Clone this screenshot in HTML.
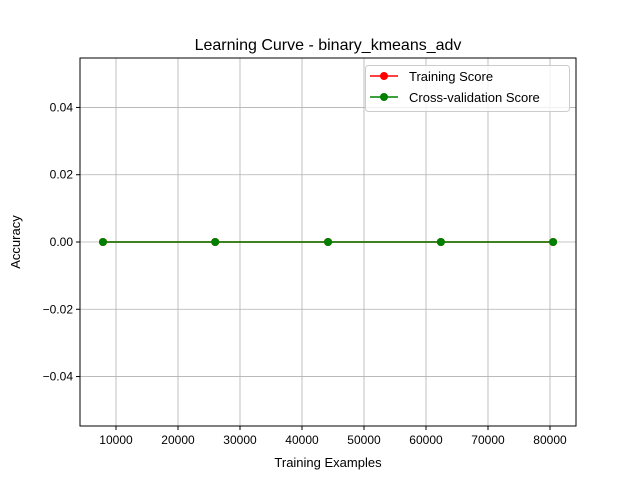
<!DOCTYPE html>
<html><head><meta charset="utf-8"><style>
body{margin:0;background:#fff;}
svg{font-family:"Liberation Sans","DejaVu Sans",sans-serif;}
</style></head><body>
<svg id="c" width="640" height="480" xmlns="http://www.w3.org/2000/svg">
<rect width="640" height="480" fill="#fff"/>
<text x="328" y="50" font-size="16" text-anchor="middle">Learning Curve - binary_kmeans_adv</text>
<g id="grid"></g>
<g id="ticks"></g>
<g id="series"></g>
<rect x="80" y="58" width="496" height="368" fill="none" stroke="#000" stroke-width="1"/>
<text x="328" y="467" font-size="13" text-anchor="middle">Training Examples</text>
<text transform="translate(20,242) rotate(-90)" font-size="13" text-anchor="middle">Accuracy</text>
<g>
<rect x="365.5" y="65.5" width="204" height="46" rx="3" fill="#fff" fill-opacity="0.8" stroke="#ccc"/>
<g>
<line x1="370" y1="76" x2="398" y2="76" stroke="red" stroke-width="1.5"/><circle cx="384" cy="76" r="4" fill="red"/>
<text x="409" y="81" font-size="13">Training Score</text></g>
<g>
<line x1="370" y1="97" x2="398" y2="97" stroke="green" stroke-width="1.5"/><circle cx="384" cy="97" r="4" fill="green"/>
<text x="409" y="102" font-size="13">Cross-validation Score</text></g>
</g>
</svg>
<script>
const trainSizes=[7900,26000,44200,62400,80500];
const trainScores=[0,0,0,0,0];
const cvScores=[0,0,0,0,0];
const xTicks=[10000,20000,30000,40000,50000,60000,70000,80000];
const yTicks=[-0.04,-0.02,0,0.02,0.04];
const NS="http://www.w3.org/2000/svg";
const X0=80,X1=576,Y0=58,Y1=426,xmin=4194,xmax=84194,ymin=-0.0547,ymax=0.0547;
const sx=v=>X0+(v-xmin)/(xmax-xmin)*(X1-X0);
const sy=v=>Y1-(v-ymin)/(ymax-ymin)*(Y1-Y0);
function mk(t,a,p){const e=document.createElementNS(NS,t);for(const k in a)e.setAttribute(k,a[k]);p.appendChild(e);return e;}
const g=document.getElementById('grid'),tk=document.getElementById('ticks'),s=document.getElementById('series');
xTicks.forEach(v=>{const x=sx(v);
const l=mk('line',{x1:x,x2:x,y1:Y0,y2:Y1,stroke:'#b0b0b0','stroke-width':0.8},g);

mk('line',{x1:x,x2:x,y1:Y1,y2:Y1+4,stroke:'#000'},tk);
const t=mk('text',{x:x,y:Y1+18,'font-size':12,'text-anchor':'middle'},tk);t.textContent=v;
});
yTicks.forEach(v=>{const y=sy(v);
const l=mk('line',{x1:X0,x2:X1,y1:y,y2:y,stroke:'#b0b0b0','stroke-width':0.8},g);

mk('line',{x1:X0-4,x2:X0,y1:y,y2:y,stroke:'#000'},tk);
const t=mk('text',{x:X0-7,y:y+4,'font-size':12,'text-anchor':'end'},tk);t.textContent=(v<0?'\u22120':'0')+Math.abs(v).toFixed(2).slice(1);
});
function series(vals,col,name){
const pl=mk('polyline',{points:trainSizes.map((x,i)=>sx(x)+','+sy(vals[i])).join(' '),fill:'none',stroke:col,'stroke-width':1.5},s);

trainSizes.forEach((x,i)=>{const c=mk('circle',{cx:sx(x),cy:sy(vals[i]),r:4,fill:col},s);
});}
series(trainScores,'red','training-score');
series(cvScores,'green','cv-score');
</script>
</body></html>
